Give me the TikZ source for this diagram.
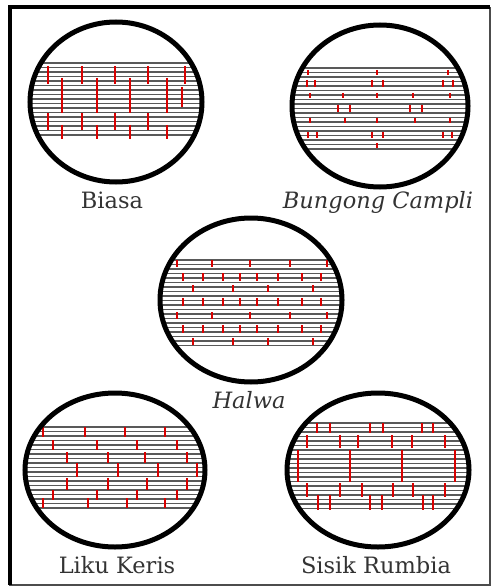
\documentclass[tikz,border=0pt]{standalone}
\usepackage{fontspec}
\setmainfont{DejaVu Serif}
\usepackage{tikz}
\usetikzlibrary{positioning}

\begin{document}
\begin{tikzpicture}[x=1pt, y=-1pt,
    rim/.style={line width=5pt},
    bandline/.style={line width=1.2pt, black!65},
    joint/.style={line width=1.1pt, red!85!black},
    caption/.style={font=\fontsize{22.5}{25}\selectfont, text=black!80, anchor=base, inner sep=0pt}]
  \useasboundingbox (0,0) rectangle (493,588);

  % Frame
  \draw[line width=1.2pt, black!70] (10,7.5) rectangle (490,585);
  \draw[line width=4pt] (10,585) -- (10,7.5) -- (490,7.5);

  % Biasa
  \begin{scope}[shift={(116,102)}]
    \begin{scope}
      \clip (0,0) ellipse [x radius=86, y radius=80];
      \foreach \y in {-39,-34.5,...,37} \draw[bandline] (-90,\y) -- (90,\y);
      \foreach \x in {-68,-34,-1,32,69} \draw[joint] (\x,-36) -- (\x,-18);
      \foreach \x in {-54,-19,14,51} \draw[joint] (\x,-24) -- (\x,11);
      \draw[joint] (66,-15) -- (66,5);
      \foreach \x in {-68,-34,-1,32} \draw[joint] (\x,11) -- (\x,28);
      \foreach \x in {-54,-19,14,51} \draw[joint] (\x,23) -- (\x,37);
    \end{scope}
    \draw[rim] (0,0) ellipse [x radius=86, y radius=80];
  \end{scope}
  \node[caption] (biasa) at (112,208) {Biasa};

  % Bungong Campli
  \begin{scope}[shift={(380,106)}]
    \begin{scope}
      \clip (0,0) ellipse [x radius=88, y radius=81];
      \foreach \y in {-38,-33.5,...,43} \draw[bandline] (-92,\y) -- (92,\y);
      \foreach \x in {-72,-3,68} \draw[joint] (\x,-36) -- (\x,-31);
      \foreach \x in {-73,-65,-8,3,63,73} \draw[joint] (\x,-26) -- (\x,-19);
      \foreach \x in {-70,-37,-3,33,70} \draw[joint] (\x,-13) -- (\x,-8);
      \foreach \x in {-42,-30,30,42} \draw[joint] (\x,-1) -- (\x,6);
      \foreach \x in {-70,-35,-3,35,70} \draw[joint] (\x,12) -- (\x,17);
      \foreach \x in {-72,-63,-8,3,63,72} \draw[joint] (\x,26) -- (\x,32);
      \draw[joint] (-3,37) -- (-3,42);
    \end{scope}
    \draw[rim] (0,0) ellipse [x radius=88, y radius=81];
  \end{scope}
  \node[caption, font=\fontsize{22.5}{25}\selectfont\itshape] (campli) at (378,208) {Bungong Campli};

  % Halwa
  \begin{scope}[shift={(251,300)}]
    \begin{scope}
      \clip (0,0) ellipse [x radius=91, y radius=82];
      \foreach \y in {-40,-35.5,...,48} \draw[bandline] (-95,\y) -- (95,\y);
      \foreach \a in {-40,12} {
        \foreach \x in {-74,-39,-1,39,76} \draw[joint] (\x,\a) -- (\x,\a+7);
      }
      \foreach \a in {-27,-2,25} {
        \foreach \x in {-68,-48,-28,-11,6,27,51,70} \draw[joint] (\x,\a) -- (\x,\a+8);
      }
      \foreach \a in {-15,38} {
        \foreach \x in {-58,-18,17,62} \draw[joint] (\x,\a) -- (\x,\a+7);
      }
    \end{scope}
    \draw[rim] (0,0) ellipse [x radius=91, y radius=82];
  \end{scope}
  \node[caption, font=\fontsize{22.5}{25}\selectfont\itshape] (halwa) at (249,408) {Halwa};

  % Liku Keris
  \begin{scope}[shift={(115,470)}]
    \begin{scope}
      \clip (0,0) ellipse [x radius=90, y radius=77];
      \foreach \y in {-43,-38.5,...,41} \draw[bandline] (-94,\y) -- (94,\y);
      \foreach \x in {-72,-30,10,50} \draw[joint] (\x,-43) -- (\x,-33);
      \foreach \x in {-62,-18,22,62} \draw[joint] (\x,-30) -- (\x,-20);
      \foreach \x in {-48,-7,30,72} \draw[joint] (\x,-18) -- (\x,-7);
      \foreach \x in {-38,3,43,82} \draw[joint] (\x,-7) -- (\x,7);
      \foreach \x in {-48,-7,32,72} \draw[joint] (\x,8) -- (\x,20);
      \foreach \x in {-62,-18,22,62} \draw[joint] (\x,20) -- (\x,30);
      \foreach \x in {-72,-27,12,50} \draw[joint] (\x,28) -- (\x,38);
    \end{scope}
    \draw[rim] (0,0) ellipse [x radius=90, y radius=77];
  \end{scope}
  \node[caption] (likukeris) at (117,573) {Liku Keris};

  % Sisik Rumbia
  \begin{scope}[shift={(378,470)}]
    \begin{scope}
      \clip (0,0) ellipse [x radius=91, y radius=77];
      \foreach \y in {-47,-42.5,...,39} \draw[bandline] (-95,\y) -- (95,\y);
      \foreach \x in {-61,-48,-8,5,44,55} \draw[joint] (\x,-47) -- (\x,-37);
      \foreach \x in {-71,-38,-20,14,34,67} \draw[joint] (\x,-35) -- (\x,-22);
      \foreach \x in {-80,-28,24,77} \draw[joint] (\x,-20) -- (\x,12);
      \foreach \x in {-71,-38,-16,15,35,67} \draw[joint] (\x,13) -- (\x,27);
      \foreach \x in {-60,-48,-8,4,45,55} \draw[joint] (\x,25) -- (\x,40);
    \end{scope}
    \draw[rim] (0,0) ellipse [x radius=91, y radius=77];
  \end{scope}
  \node[caption] (sisikrumbia) at (376,573) {Sisik Rumbia};
\end{tikzpicture}
\end{document}
